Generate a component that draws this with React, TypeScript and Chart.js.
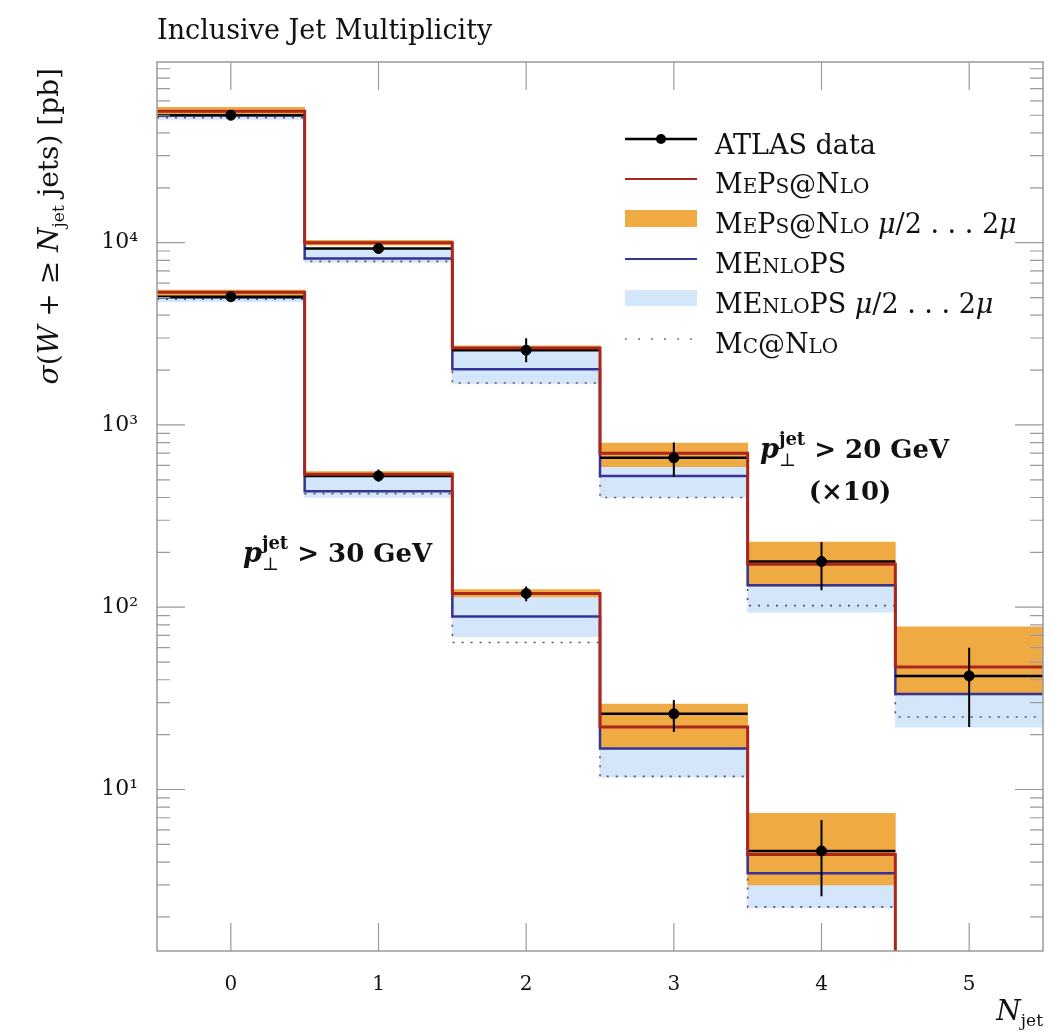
import React, { useEffect, useRef } from 'react';
import { Chart, registerables } from 'chart.js';

Chart.register(...registerables);

// ---------- data ----------
const xCats = [0, 1, 2, 3, 4, 5];
const xTickLabels = ['0', '1', '2', '3', '4', '5'];
const binEdges = [-0.5, 0.5, 1.5, 2.5, 3.5, 4.5, 5.5];
const yDecadeTicks = [10, 100, 1000, 10000];

// p_T^jet > 20 GeV (x10)
const atlas20 = [50000, 9300, 2570, 660, 178, 42];
const atlas20Lo = [47500, 8700, 2210, 520, 124, 22];
const atlas20Hi = [52500, 9900, 2990, 800, 228, 60];
const meps20 = [52600, 10000, 2640, 700, 172, 47];
const meps20BandLo = [50500, 9700, 2560, 590, 130, 33];
const meps20BandHi = [55300, 10300, 2720, 795, 228, 78];
const menlops20 = [50000, 8200, 2020, 525, 132, 33.4];
const menlops20BandLo = [47500, 7800, 1680, 400, 94, 22];
const menlops20BandHi = [52000, 9300, 2640, 605, 150, 40];
const mcnlo20 = [48500, 7900, 1700, 400, 102, 25];

// p_T^jet > 30 GeV
const atlas30 = [5050, 525, 119, 26, 4.6];
const atlas30Lo = [4800, 490, 108, 20.7, 2.6];
const atlas30Hi = [5300, 570, 130, 31, 6.8];
const meps30 = [5350, 537, 119, 22, 4.4, 0.6];
const meps30BandLo = [5100, 520, 114, 17, 3.0];
const meps30BandHi = [5500, 555, 125, 29.4, 7.4];
const menlops30 = [5000, 433, 89, 16.8, 3.47];
const menlops30BandLo = [4750, 400, 69, 11.7, 2.24];
const menlops30BandHi = [5250, 537, 119, 22, 4.4];
const mcnlo30 = [4900, 420, 64, 11.8, 2.27];

// ---------- styles ----------
const W = 1052;
const H = 1033;
const SERIF = '"DejaVu Serif", "Liberation Serif", serif';
const F = (size: number, style = '') => `${style} ${size}px ${SERIF}`.trim();
const RED = 'rgb(170,38,28)';
const BLUE = 'rgb(52,52,150)';
const ORANGE = 'rgb(240,170,68)';
const LIGHTBLUE = 'rgb(212,230,250)';
const FRAME = '#9a9a9a';

// ---------- helpers ----------
const stepPoints = (vals: number[]) => {
  const n = vals.length;
  return binEdges.slice(0, n + 1).map((e, i) => ({ x: e, y: vals[Math.min(i, n - 1)] }));
};
const binSegments = (vals: number[]) =>
  vals.flatMap((v, i) => [
    { x: binEdges[i], y: v },
    { x: binEdges[i + 1], y: v },
    { x: binEdges[i + 1], y: null as any },
  ]);
const errSegments = (lo: number[], hi: number[]) =>
  lo.flatMap((l, i) => [
    { x: xCats[i], y: l },
    { x: xCats[i], y: hi[i] },
    { x: xCats[i], y: null as any },
  ]);
const bandBars = (lo: number[], hi: number[]) => lo.map((l, i) => ({ x: xCats[i], y: [l, hi[i]] }));

type Seg = { t: string; f: string; dy?: number; t2?: string; f2?: string; dy2?: number };

function richWidth(ctx: CanvasRenderingContext2D, segs: Seg[]) {
  let w = 0;
  for (const s of segs) {
    ctx.font = s.f;
    let a = ctx.measureText(s.t).width;
    if (s.t2) {
      ctx.font = s.f2 || s.f;
      a = Math.max(a, ctx.measureText(s.t2).width);
    }
    w += a;
  }
  return w;
}

function drawRich(ctx: CanvasRenderingContext2D, segs: Seg[], x: number, y: number, align: 'left' | 'right' | 'center' = 'left') {
  const w = richWidth(ctx, segs);
  let cx = align === 'left' ? x : align === 'right' ? x - w : x - w / 2;
  ctx.textAlign = 'left';
  ctx.textBaseline = 'alphabetic';
  for (const s of segs) {
    ctx.font = s.f;
    ctx.fillText(s.t, cx, y + (s.dy || 0));
    let a = ctx.measureText(s.t).width;
    if (s.t2) {
      ctx.font = s.f2 || s.f;
      ctx.fillText(s.t2, cx, y + (s.dy2 || 0));
      a = Math.max(a, ctx.measureText(s.t2).width);
    }
    cx += a;
  }
  return w;
}

const SUP: Record<string, string> = { '0': '⁰', '1': '¹', '2': '²', '3': '³', '4': '⁴', '5': '⁵' };

const decorPlugin = {
  id: 'decor',
  afterDraw(chart: any) {
    const { ctx, chartArea: a, scales } = chart;
    const xs = scales.x;
    const ys = scales.y;
    ctx.save();
    // frame
    ctx.strokeStyle = FRAME;
    ctx.lineWidth = 1.5;
    ctx.strokeRect(a.left, a.top, a.right - a.left, a.bottom - a.top);
    // y ticks inward
    ctx.lineWidth = 1.2;
    for (let d = 0; d <= 5; d++) {
      for (let m = 1; m <= 9; m++) {
        const v = m * Math.pow(10, d);
        if (v < ys.min || v > ys.max) continue;
        const py = ys.getPixelForValue(v);
        const len = m === 1 ? 28 : 13;
        ctx.beginPath();
        ctx.moveTo(a.left, py);
        ctx.lineTo(a.left + len, py);
        ctx.moveTo(a.right, py);
        ctx.lineTo(a.right - len, py);
        ctx.stroke();
      }
    }
    // x ticks inward
    for (const xv of xCats) {
      const px = xs.getPixelForValue(xv);
      ctx.beginPath();
      ctx.moveTo(px, a.bottom);
      ctx.lineTo(px, a.bottom - 28);
      ctx.moveTo(px, a.top);
      ctx.lineTo(px, a.top + 28);
      ctx.stroke();
    }

    ctx.fillStyle = '#111';
    // title
    drawRich(ctx, [{ t: 'Inclusive Jet Multiplicity', f: F(27) }], a.left, 39);

    // y axis title (rotated)
    ctx.save();
    ctx.translate(58, 68);
    ctx.rotate(-Math.PI / 2);
    const ySegs: Seg[] = [
      { t: 'σ', f: F(28, 'italic') },
      { t: '(', f: F(28) },
      { t: 'W', f: F(28, 'italic') },
      { t: ' + ≥ ', f: F(28) },
      { t: 'N', f: F(28, 'italic') },
      { t: 'jet', f: F(17), dy: 6 },
      { t: ' jets) [pb]', f: F(28) },
    ];
    drawRich(ctx, ySegs, 0, 0, 'right');
    ctx.restore();

    // x axis title
    drawRich(ctx, [
      { t: 'N', f: F(28, 'italic') },
      { t: 'jet', f: F(17), dy: 6 },
    ], a.right, 1020, 'right');

    // annotations
    const pSegs = (val: string): Seg[] => [
      { t: 'p', f: F(27, 'bold italic') },
      { t: 'jet', f: F(18, 'bold'), dy: -13, t2: '⊥', f2: F(18), dy2: 8 },
      { t: ' > ' + val + ' GeV', f: F(26, 'bold') },
    ];
    drawRich(ctx, pSegs('30'), 243, 562);
    drawRich(ctx, pSegs('20'), 760, 458);
    drawRich(ctx, [{ t: '(×10)', f: F(26, 'bold') }], 850, 500, 'center');

    // legend
    const lx0 = 625;
    const lx1 = 697;
    const tx = 715;
    const base = [154, 193, 233, 273, 313, 353];
    const big = F(27);
    const sc = F(20);
    const mu = F(27, 'italic');
    // row 1: ATLAS data
    ctx.strokeStyle = '#000';
    ctx.lineWidth = 2.5;
    ctx.beginPath();
    ctx.moveTo(lx0, base[0] - 15);
    ctx.lineTo(lx1, base[0] - 15);
    ctx.stroke();
    ctx.beginPath();
    ctx.arc((lx0 + lx1) / 2, base[0] - 15, 5, 0, Math.PI * 2);
    ctx.fillStyle = '#000';
    ctx.fill();
    ctx.fillStyle = '#111';
    drawRich(ctx, [{ t: 'ATLAS data', f: big }], tx, base[0]);
    // row 2: MEPS@NLO
    ctx.strokeStyle = RED;
    ctx.lineWidth = 2;
    ctx.beginPath();
    ctx.moveTo(lx0, base[1] - 14);
    ctx.lineTo(lx1, base[1] - 14);
    ctx.stroke();
    const mepsSegs: Seg[] = [
      { t: 'M', f: big }, { t: 'E', f: sc }, { t: 'P', f: big }, { t: 'S', f: sc },
      { t: '@', f: big }, { t: 'N', f: big }, { t: 'LO', f: sc },
    ];
    drawRich(ctx, mepsSegs, tx, base[1]);
    // row 3: MEPS band
    ctx.fillStyle = ORANGE;
    ctx.fillRect(lx0, base[2] - 23, lx1 - lx0, 17);
    ctx.fillStyle = '#111';
    drawRich(ctx, [...mepsSegs, { t: ' ', f: big }, { t: 'μ', f: mu }, { t: '/2 . . . 2', f: big }, { t: 'μ', f: mu }], tx, base[2]);
    // row 4: MENLOPS
    ctx.strokeStyle = BLUE;
    ctx.lineWidth = 2;
    ctx.beginPath();
    ctx.moveTo(lx0, base[3] - 14);
    ctx.lineTo(lx1, base[3] - 14);
    ctx.stroke();
    const menlopsSegs: Seg[] = [
      { t: 'ME', f: big }, { t: 'NLO', f: sc }, { t: 'PS', f: big },
    ];
    drawRich(ctx, menlopsSegs, tx, base[3]);
    // row 5: MENLOPS band
    ctx.fillStyle = LIGHTBLUE;
    ctx.fillRect(lx0, base[4] - 23, lx1 - lx0, 16);
    ctx.fillStyle = '#111';
    drawRich(ctx, [...menlopsSegs, { t: ' ', f: big }, { t: 'μ', f: mu }, { t: '/2 . . . 2', f: big }, { t: 'μ', f: mu }], tx, base[4]);
    // row 6: MC@NLO
    ctx.strokeStyle = '#777';
    ctx.lineWidth = 1.5;
    ctx.setLineDash([2, 11]);
    ctx.beginPath();
    ctx.moveTo(lx0, base[5] - 14);
    ctx.lineTo(lx1, base[5] - 14);
    ctx.stroke();
    ctx.setLineDash([]);
    drawRich(ctx, [
      { t: 'M', f: big }, { t: 'C', f: sc }, { t: '@', f: big }, { t: 'N', f: big }, { t: 'LO', f: sc },
    ], tx, base[5]);

    ctx.restore();
  },
};

export default function App() {
  const ref = useRef<HTMLCanvasElement | null>(null);

  useEffect(() => {
    if (!ref.current) return;
    const stepLine = (label: string, pts: any[], color: string, width: number, order: number, dash?: number[]) => ({
      type: 'line' as const,
      label,
      data: pts,
      borderColor: color,
      borderWidth: width,
      borderDash: dash || [],
      stepped: 'before' as const,
      pointRadius: 0,
      fill: false,
      order,
    });
    const segLine = (label: string, pts: any[], color: string, width: number, order: number) => ({
      type: 'line' as const,
      label,
      data: pts,
      borderColor: color,
      borderWidth: width,
      pointRadius: 0,
      fill: false,
      spanGaps: false,
      order,
    });
    const band = (label: string, pts: any[], color: string, order: number) => ({
      type: 'bar' as const,
      label,
      data: pts,
      backgroundColor: color,
      borderWidth: 0,
      barPercentage: 1,
      categoryPercentage: 1,
      grouped: false,
      order,
    });
    const points = (label: string, vals: number[]) => ({
      type: 'scatter' as const,
      label,
      data: vals.map((v, i) => ({ x: xCats[i], y: v })),
      backgroundColor: '#000',
      borderColor: '#000',
      pointRadius: 5,
      showLine: false,
      order: 1,
    });

    const chart = new Chart(ref.current, {
      type: 'line',
      data: {
        datasets: [
          band('MEnloPS μ/2…2μ (20)', bandBars(menlops20BandLo, menlops20BandHi), LIGHTBLUE, 20),
          band('MEnloPS μ/2…2μ (30)', bandBars(menlops30BandLo, menlops30BandHi), LIGHTBLUE, 20),
          band('MePs@Nlo μ/2…2μ (20)', bandBars(meps20BandLo, meps20BandHi), ORANGE, 19),
          band('MePs@Nlo μ/2…2μ (30)', bandBars(meps30BandLo, meps30BandHi), ORANGE, 19),
          stepLine('Mc@Nlo (20)', stepPoints(mcnlo20), '#555', 1.6, 18, [2, 7]),
          stepLine('Mc@Nlo (30)', stepPoints(mcnlo30), '#555', 1.6, 18, [2, 7]),
          stepLine('MEnloPS (20)', stepPoints(menlops20), BLUE, 2.5, 17),
          stepLine('MEnloPS (30)', stepPoints(menlops30), BLUE, 2.5, 17),
          segLine('ATLAS data (20)', binSegments(atlas20), '#000', 2.5, 16),
          segLine('ATLAS data (30)', binSegments(atlas30), '#000', 2.5, 16),
          stepLine('MePs@Nlo (20)', stepPoints(meps20), RED, 3, 15),
          stepLine('MePs@Nlo (30)', stepPoints(meps30), RED, 3, 15),
          segLine('ATLAS err (20)', errSegments(atlas20Lo, atlas20Hi), '#000', 2, 14),
          segLine('ATLAS err (30)', errSegments(atlas30Lo, atlas30Hi), '#000', 2, 14),
          points('ATLAS data pts (20)', atlas20),
          points('ATLAS data pts (30)', atlas30),
        ] as any,
      },
      options: {
        responsive: false,
        animation: false,
        devicePixelRatio: 1,
        layout: { padding: { left: 0, top: 62, right: 9, bottom: 0 } },
        plugins: {
          legend: { display: false },
          tooltip: { enabled: false },
          title: { display: false },
        },
        scales: {
          x: {
            type: 'linear',
            min: -0.5,
            max: 5.5,
            bounds: 'data',
            offset: false,
            grace: 0,
            grid: { display: false, drawTicks: false, offset: false },
            border: { display: false },
            afterFit: (s: any) => {
              s.height = H - 951;
            },
            afterBuildTicks: (s: any) => {
              s.ticks = xCats.map((v) => ({ value: v }));
            },
            ticks: {
              autoSkip: false,
              padding: 22,
              color: '#111',
              font: { family: SERIF, size: 20 },
              callback: (v: any) => {
                const i = xCats.indexOf(Math.round(Number(v)));
                return i >= 0 ? xTickLabels[i] : '';
              },
            },
          },
          y: {
            type: 'logarithmic',
            min: 1.3,
            max: 98000,
            grid: { display: false, drawTicks: false },
            border: { display: false },
            afterFit: (s: any) => {
              s.width = 157;
            },
            ticks: {
              autoSkip: false,
              padding: 19,
              color: '#111',
              font: { family: SERIF, size: 22 },
              callback: (v: any) => {
                const n = Number(v);
                const idx = yDecadeTicks.findIndex((t) => Math.abs(t - n) < 1e-6 * t);
                if (idx < 0) return '';
                const e = String(Math.round(Math.log10(n)));
                return '10' + e.split('').map((c) => SUP[c] || c).join('');
              },
            },
          },
        },
      } as any,
      plugins: [decorPlugin],
    });
    return () => chart.destroy();
  }, []);

  return (
    <div style={{ position: 'absolute', left: 0, top: 0, width: W, height: H, background: '#fff' }}>
      <canvas ref={ref} width={W} height={H} style={{ width: W, height: H, display: 'block' }} />
    </div>
  );
}
